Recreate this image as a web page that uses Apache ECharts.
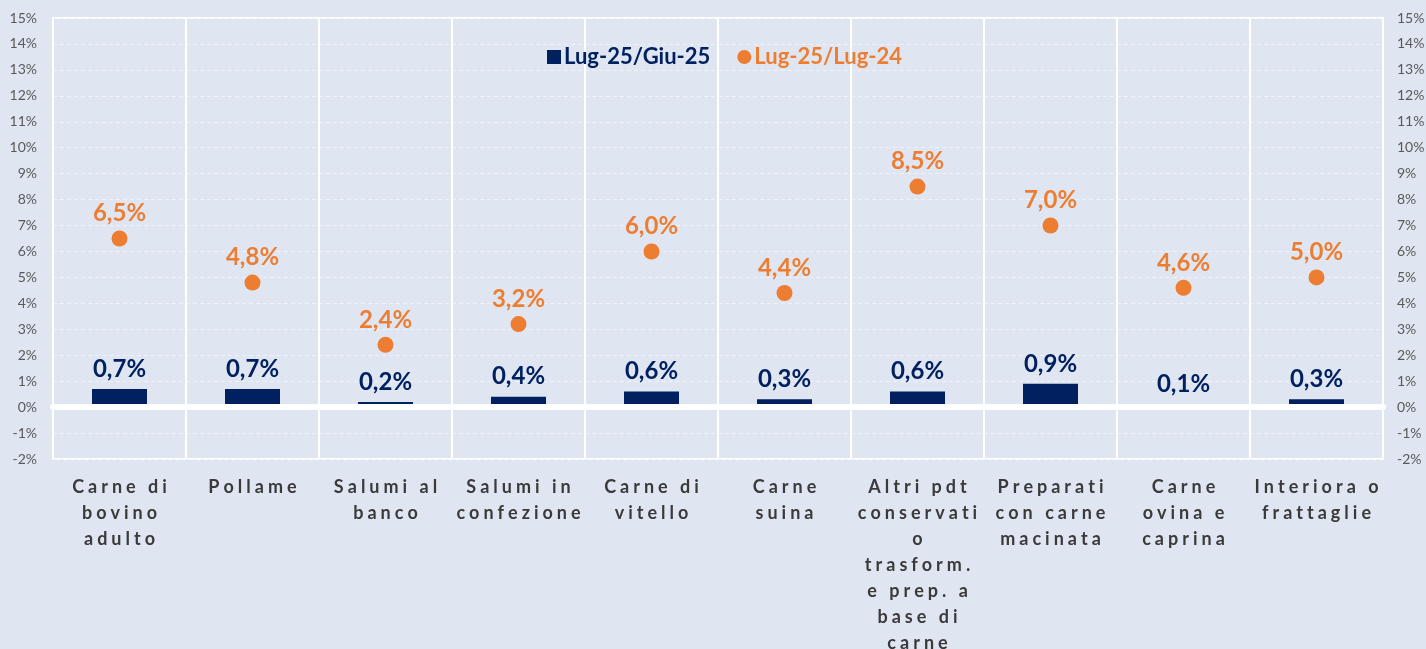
<!DOCTYPE html>
<html>
<head>
<meta charset="utf-8">
<script src="https://cdn.jsdelivr.net/npm/echarts@6/dist/echarts.min.js"></script>
<style>
html,body{margin:0;padding:0;background:#dfe6f2;}
#chart{width:1426px;height:649px;}
</style>
</head>
<body>
<div id="chart"></div>
<script>
const categories = [
  "Carne di\nbovino\nadulto",
  "Pollame",
  "Salumi al\nbanco",
  "Salumi in\nconfezione",
  "Carne di\nvitello",
  "Carne\nsuina",
  "Altri pdt\nconservati\no\ntrasform.\ne prep. a\nbase di\ncarne",
  "Preparati\ncon carne\nmacinata",
  "Carne\novina e\ncaprina",
  "Interiora o\nfrattaglie"
];
const seriesNames = ["Lug-25/Giu-25", "Lug-25/Lug-24"];
const monthOnMonth = [0.7, 0.7, 0.2, 0.4, 0.6, 0.3, 0.6, 0.9, 0.1, 0.3];
const yearOnYear = [6.5, 4.8, 2.4, 3.2, 6.0, 4.4, 8.5, 7.0, 4.6, 5.0];
const yMin = -2, yMax = 15, yStep = 1;

const NAVY = '#002060', ORANGE = '#ED7D31', GREY = '#595959', DARK = '#3a3a3a';
const FONT = 'Lato';
const pct = v => v.toFixed(1).replace('.', ',') + '%';
const spaced = v => v.split('\n').map(line => line.split('').map(ch => '{s|' + ch + '}').join('')).join('\n');

const chart = echarts.init(document.getElementById('chart'));
chart.setOption({
  backgroundColor: '#dfe6f2',
  animation: false,
  textStyle: { fontFamily: FONT },
  grid: { left: 53, right: 43, top: 18, bottom: 190, outerBoundsMode: 'none', containLabel: false, show: true, borderColor: '#ffffff', borderWidth: 2, backgroundColor: 'transparent' },
  legend: {
    top: 41, left: 542,
    itemGap: 27, itemWidth: 14, itemHeight: 14,
    textStyle: { fontFamily: FONT, fontWeight: 'bold', fontSize: 22, padding: [0, 0, 0, -2] },
    data: [
      { name: seriesNames[0], icon: 'rect', textStyle: { color: NAVY } },
      { name: seriesNames[1], icon: 'circle', textStyle: { color: ORANGE } }
    ]
  },
  xAxis: [
    {
      type: 'category', data: categories, position: 'bottom',
      axisLine: { show: false, onZero: false }, axisTick: { show: false },
      splitLine: { show: true, lineStyle: { color: '#ffffff', width: 2 } },
      axisLabel: {
        interval: 0, margin: 15,
        formatter: spaced,
        rich: { s: { fontFamily: FONT, fontWeight: 'bold', fontSize: 18, color: DARK, padding: [0, 2, 0, 2], lineHeight: 26, align: 'center' } }
      }
    },
    {
      type: 'category', data: categories, position: 'top', z: 5,
      axisLine: { show: true, onZero: true, lineStyle: { color: '#ffffff', width: 6 } },
      axisTick: { show: false }, axisLabel: { show: false }, splitLine: { show: false }
    }
  ],
  yAxis: [
    {
      type: 'value', min: yMin, max: yMax, interval: yStep, position: 'left',
      axisLine: { show: false }, axisTick: { show: false },
      axisLabel: { margin: 16, color: GREY, fontFamily: FONT, fontSize: 14, formatter: v => v + '%' },
      splitLine: { show: true, lineStyle: { color: '#eef2f9', width: 1, type: [4, 3] } }
    },
    {
      type: 'value', min: yMin, max: yMax, interval: yStep, position: 'right',
      axisLine: { show: false }, axisTick: { show: false },
      axisLabel: { margin: 14, color: GREY, fontFamily: FONT, fontSize: 14, formatter: v => v + '%' },
      splitLine: { show: false }
    }
  ],
  series: [
    {
      name: seriesNames[0], type: 'bar', data: monthOnMonth, barWidth: 55,
      xAxisIndex: 0, yAxisIndex: 0,
      itemStyle: { color: NAVY },
      label: { show: true, position: 'top', distance: 8, color: NAVY, fontFamily: FONT, fontWeight: 'bold', fontSize: 24, formatter: p => pct(p.value) }
    },
    {
      name: seriesNames[1], type: 'scatter', data: yearOnYear, symbol: 'circle', symbolSize: 16,
      xAxisIndex: 0, yAxisIndex: 0, z: 3,
      itemStyle: { color: ORANGE, opacity: 1 },
      label: { show: true, position: 'top', distance: 5, color: ORANGE, fontFamily: FONT, fontWeight: 'bold', fontSize: 24, formatter: p => pct(p.value) }
    }
  ]
});
</script>
</body>
</html>
